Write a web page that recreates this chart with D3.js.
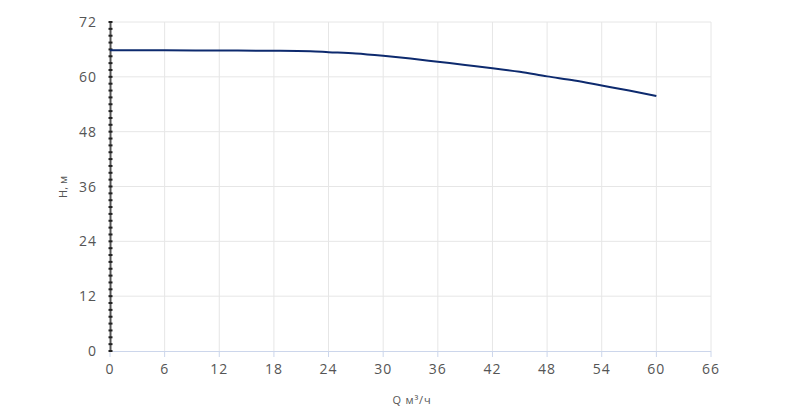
<!DOCTYPE html><html><head><meta charset="utf-8"><script src="https://cdn.jsdelivr.net/npm/d3@7"></script>
<style>body{margin:0;background:#fff}text{font-family:"Open Sans",sans-serif}</style></head><body><svg id="c" width="800" height="408"></svg><script>
const qValues=[0,6,12,18,22,24,27,30,33,36,39,42,45,48,51,54,57,60];
const hValues=[65.8,65.8,65.75,65.7,65.6,65.4,65.1,64.6,64.0,63.3,62.6,61.9,61.1,60.1,59.2,58.1,57.0,55.8];
const xTicks=[0,6,12,18,24,30,36,42,48,54,60,66];
const yTicks=[0,12,24,36,48,60,72];
const svg=d3.select("#c");
const x=d3.scaleLinear().domain([0,66]).range([110,711]);
const y=d3.scaleLinear().domain([0,72]).range([351,22]);
const g=svg.append("g");
g.selectAll(".vx").data(xTicks.slice(1)).join("line").attr("x1",d=>x(d)).attr("x2",d=>x(d)).attr("y1",22).attr("y2",351).attr("stroke","#e6e6e6");
g.selectAll(".hy").data(yTicks.slice(1)).join("line").attr("x1",110).attr("x2",711).attr("y1",d=>y(d)).attr("y2",d=>y(d)).attr("stroke","#e6e6e6");
g.append("line").attr("x1",110).attr("x2",711).attr("y1",351.5).attr("y2",351.5).attr("stroke","#ccd6eb");
g.selectAll(".xt").data(xTicks).join("line").attr("x1",d=>x(d)).attr("x2",d=>x(d)).attr("y1",351).attr("y2",357).attr("stroke","#ccd6eb");
g.append("line").attr("x1",110.5).attr("x2",110.5).attr("y1",22).attr("y2",351).attr("stroke","#555").attr("stroke-width",2);
g.selectAll(".mt").data(d3.range(0,72.01,1.5)).join("line").attr("x1",108.5).attr("x2",112.5).attr("y1",d=>y(d)).attr("y2",d=>y(d)).attr("stroke","#222").attr("stroke-width",2);
g.selectAll(".xl").data(xTicks).join("text").attr("x",d=>x(d)).attr("y",374).attr("text-anchor","middle").attr("font-size",14).attr("fill","#555").attr("letter-spacing",1).text(d=>d);
g.selectAll(".yl").data(yTicks).join("text").attr("x",97).attr("y",d=>y(d)+5).attr("text-anchor","end").attr("font-size",14).attr("fill","#555").attr("letter-spacing",1).text(d=>d);
svg.append("text").attr("x",412).attr("y",404).attr("text-anchor","middle").attr("font-size",11).attr("fill","#555").attr("letter-spacing",0.8).text("Q м³/ч");
svg.append("text").attr("transform","translate(67,187) rotate(-90)").attr("text-anchor","middle").attr("font-size",11).attr("fill","#555").text("H, м");
svg.append("path").datum(qValues.map((q,i)=>[q,hValues[i]])).attr("fill","none").attr("stroke","#0d2a6e").attr("stroke-width",2)
 .attr("d",d3.line().x(d=>x(d[0])).y(d=>y(d[1])).curve(d3.curveMonotoneX));
</script></body></html>
